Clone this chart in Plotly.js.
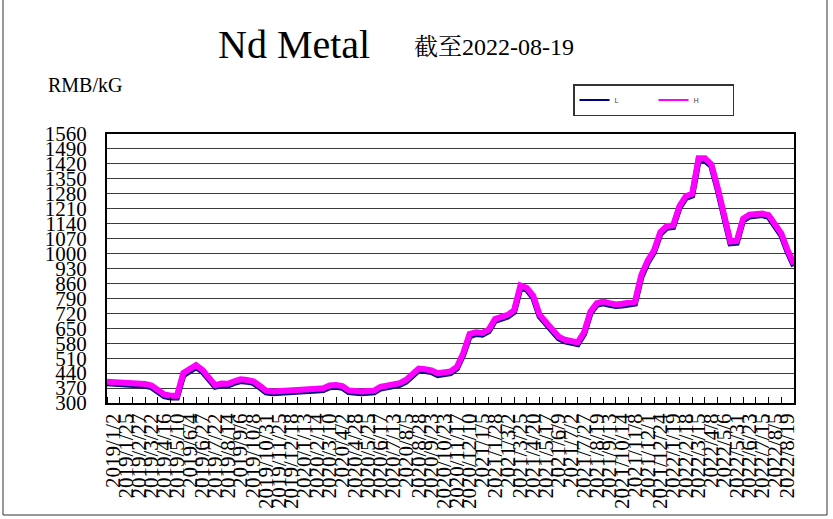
<!DOCTYPE html>
<html>
<head>
<meta charset="utf-8">
<script src="https://cdn.plot.ly/plotly-3.0.1.min.js"></script>
<style>
html,body{margin:0;padding:0;background:#fff;}
#chart{width:833px;height:519px;}
</style>
</head>
<body>
<div id="chart"></div>
<script>
// Date tick labels (one per category interval)
var dateLabels = [
"2019/1/2","2019/1/25","2019/2/27","2019/3/22","2019/4/16","2019/5/10","2019/6/4","2019/6/27",
"2019/7/22","2019/8/14","2019/9/6","2019/10/8","2019/10/31","2019/11/25","2019/12/18","2020/1/13",
"2020/2/14","2020/3/10","2020/4/2","2020/4/28","2020/5/25","2020/6/17","2020/7/13","2020/8/5",
"2020/8/28","2020/9/23","2020/10/23","2020/11/17","2020/12/10","2021/1/5","2021/1/28","2021/3/2",
"2021/3/25","2021/4/20","2021/5/17","2021/6/9","2021/7/2","2021/7/27","2021/8/19","2021/9/13",
"2021/10/14","2021/11/8","2021/12/1","2021/12/24","2022/1/19","2022/2/18","2022/3/15","2022/4/8",
"2022/5/6","2022/5/31","2022/6/23","2022/7/15","2022/8/5","2022/8/19"
];

// Price series, two samples per label interval (RMB/kG)
var priceH = [
400,399,398,396,395,393,389,382,359,340,
334,334,441,458,477,455,421,384,391,390,
402,411,408,402,381,358,354,355,358,359,
364,364,365,367,369,382,384,379,359,354,
354,356,358,376,381,387,393,408,439,461,
458,453,439,441,448,469,533,623,631,628,
644,693,705,713,735,850,839,802,714,682,
651,611,596,592,584,631,728,768,775,768,
762,765,768,774,900,967,1015,1101,1129,1132,
1223,1269,1280,1446,1446,1418,1307,1170,1056,1059,
1163,1182,1186,1188,1180,1133,1094,1015,950
];
var priceL = [
392,391,390,388,387,385,381,374,351,332,
326,326,430,450,468,447,413,376,383,382,
394,403,400,394,373,350,346,347,350,351,
356,356,357,359,361,374,376,371,351,346,
346,348,350,368,373,379,385,400,431,453,
450,445,431,433,440,461,525,612,623,620,
636,685,697,705,727,840,831,794,706,674,
643,603,588,584,576,623,720,760,767,760,
754,757,760,766,890,958,1007,1093,1121,1124,
1215,1261,1272,1436,1436,1410,1299,1162,1048,1051,
1155,1174,1178,1180,1172,1125,1086,1007,942
];

var yTicks = [300,370,440,510,580,650,720,790,860,930,1000,1070,1140,1210,1280,1350,1420,1490,1560];

var samplesPerLabel = 2;
var xs = priceH.map(function(_, j){ return j / samplesPerLabel; });
var labelPos = dateLabels.map(function(_, i){ return i + 0.5; });

var serif = "Liberation Serif, Times New Roman, serif";

var traces = [
  {x: xs, y: priceL, type: "scatter", mode: "lines", name: "L", showlegend: false,
   line: {color: "#000080", width: 6}},
  {x: xs, y: priceH, type: "scatter", mode: "lines", name: "H", showlegend: false,
   line: {color: "#FF00FF", width: 6}},
  {x: [null], y: [null], type: "scatter", mode: "lines", name: "L", hoverinfo: "skip",
   line: {color: "#000080", width: 2}},
  {x: [null], y: [null], type: "scatter", mode: "lines", name: "H", hoverinfo: "skip",
   line: {color: "#FF00FF", width: 2}}
];

function px2x(p){ return (p - 107) / 687; }
function px2y(p){ return (403 - p) / 269; }

var layout = {
  width: 833, height: 519,
  margin: {l: 107, r: 39, t: 134, b: 116, pad: 0},
  paper_bgcolor: "#fff", plot_bgcolor: "#fff",
  font: {family: serif, color: "#000"},
  showlegend: true,
  legend: {
    orientation: "h", x: px2x(573), y: px2y(84), xanchor: "left", yanchor: "top",
    bordercolor: "#333", borderwidth: 1.5, bgcolor: "#fff",
    font: {size: 7, color: "#444", family: "DejaVu Sans, sans-serif"},
    entrywidth: 34, entrywidthmode: "pixels"
  },
  xaxis: {
    range: [0, dateLabels.length],
    tickmode: "array", tickvals: labelPos, ticktext: dateLabels,
    tickangle: -90, ticks: "", showgrid: false, zeroline: false,
    tickfont: {size: 21, family: serif, color: "#000"},
    showline: true, mirror: true, linecolor: "#000", linewidth: 2,
    minor: {ticks: "inside", tickmode: "linear", tick0: 0, dtick: 1, ticklen: 6,
            tickcolor: "#000", tickwidth: 1, showgrid: false},
    fixedrange: true
  },
  yaxis: {
    range: [300, 1560],
    tickmode: "array", tickvals: yTicks, ticktext: yTicks.map(String),
    ticks: "", showgrid: true, gridcolor: "#3c3c3c", gridwidth: 1, zeroline: false,
    tickfont: {size: 21, family: serif, color: "#000"},
    ticklabelstandoff: 14,
    showline: true, mirror: true, linecolor: "#000", linewidth: 2,
    fixedrange: true
  },
  annotations: [
    {text: "Nd Metal", xref: "paper", yref: "paper", x: px2x(294), y: px2y(44),
     xanchor: "center", yanchor: "middle", showarrow: false,
     font: {size: 40, family: serif, color: "#000"}},
    {text: "截至2022-08-19", xref: "paper", yref: "paper", x: px2x(412), y: px2y(47),
     xanchor: "left", yanchor: "middle", showarrow: false,
     font: {size: 24, family: "Liberation Serif, Noto Serif CJK SC, Noto Sans CJK SC, serif", color: "#000"}},
    {text: "RMB/kG", xref: "paper", yref: "paper", x: px2x(46), y: px2y(85),
     xanchor: "left", yanchor: "middle", showarrow: false,
     font: {size: 20, family: serif, color: "#000"}}
  ],
  shapes: [
    {type: "line", xref: "paper", yref: "paper", x0: px2x(3), x1: px2x(3), y0: px2y(0), y1: px2y(515),
     line: {color: "#333", width: 1}},
    {type: "line", xref: "paper", yref: "paper", x0: px2x(3), x1: px2x(827), y0: px2y(515), y1: px2y(515),
     line: {color: "#333", width: 1}},
    {type: "line", xref: "paper", yref: "paper", x0: px2x(827), x1: px2x(827), y0: px2y(0), y1: px2y(515),
     line: {color: "#333", width: 1}}
  ]
};

Plotly.newPlot("chart", traces, layout, {displayModeBar: false, staticPlot: true});
</script>
</body>
</html>
